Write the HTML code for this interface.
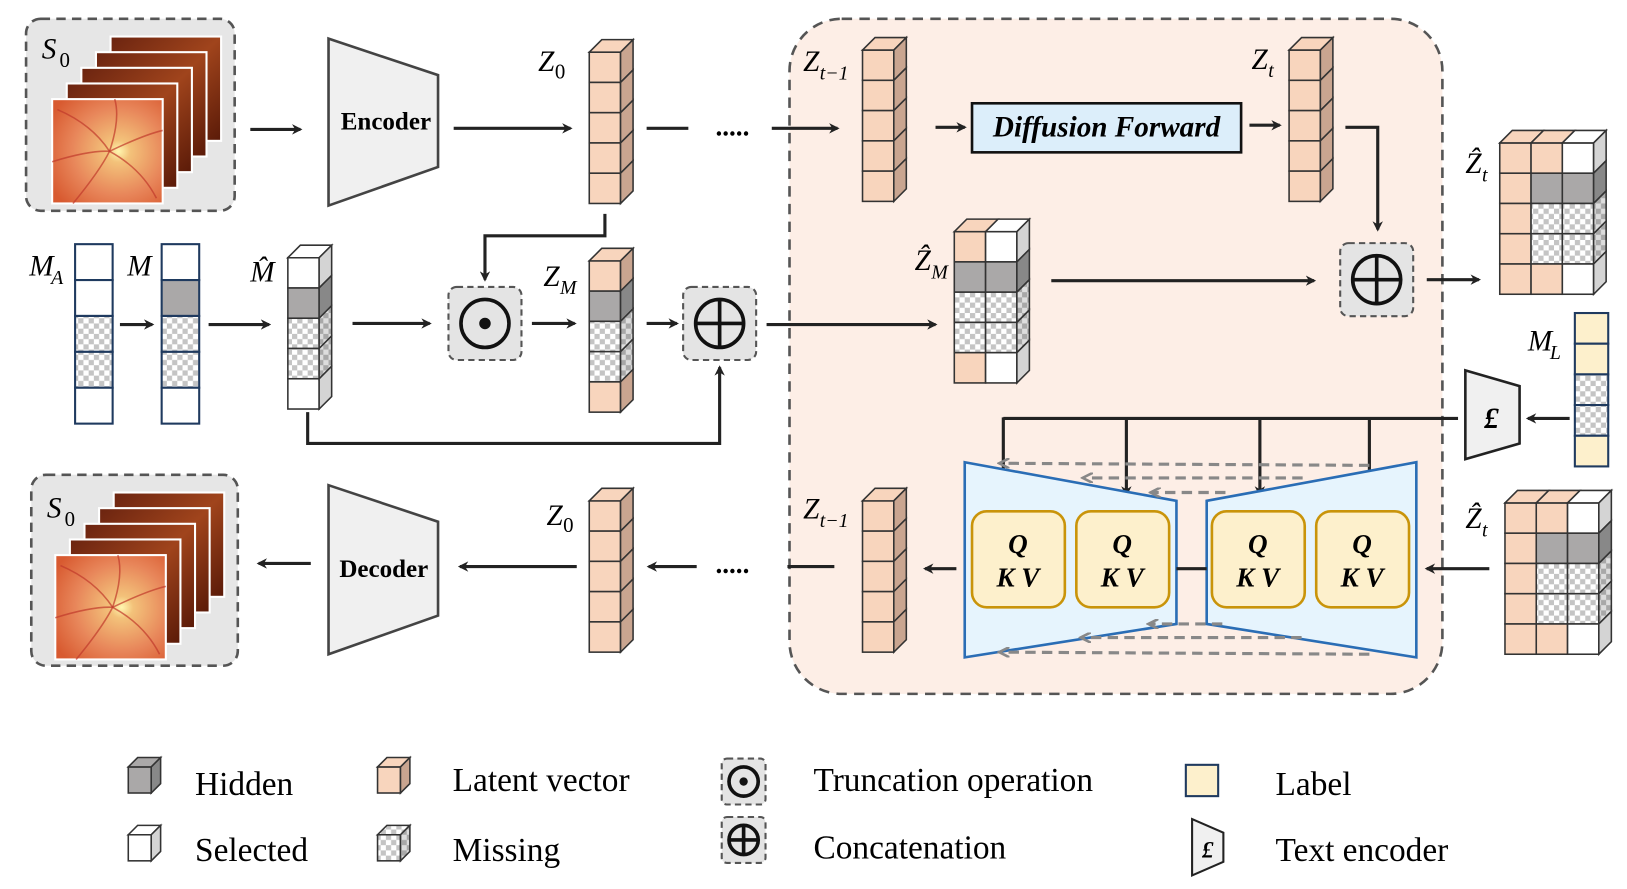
<!DOCTYPE html>
<html><head><meta charset="utf-8">
<style>
html,body{margin:0;padding:0;background:#fff;}
svg{display:block;}
text{font-family:"Liberation Serif",serif;}
.lab{font-style:italic;font-size:28px;}
.sub{font-style:italic;font-size:19px;}
.num{font-style:normal;font-size:20px;}
.leg{font-size:32px;}
.qkv{font-weight:bold;font-style:italic;font-size:26px;}
</style></head><body>
<svg id="s" width="1627" height="889" viewBox="0 0 1560 852" preserveAspectRatio="none" xmlns="http://www.w3.org/2000/svg">
<defs>
<pattern id="chk" width="10" height="10" patternUnits="userSpaceOnUse">
<rect width="10" height="10" fill="#fff"/><rect width="5" height="5" fill="#c4c4c4"/><rect x="5" y="5" width="5" height="5" fill="#c4c4c4"/></pattern>
<pattern id="chkd" width="10" height="10" patternUnits="userSpaceOnUse">
<rect width="10" height="10" fill="#ddd"/><rect width="5" height="5" fill="#a8a8a8"/><rect x="5" y="5" width="5" height="5" fill="#a8a8a8"/></pattern>
<marker id="ah" markerWidth="10" markerHeight="10" refX="8" refY="5" orient="auto" markerUnits="userSpaceOnUse">
<path d="M0,0 L10,5 L0,10 L3,5 Z" fill="#222"/></marker>
<marker id="ahg" markerWidth="12" markerHeight="10" refX="8" refY="5" orient="auto" markerUnits="userSpaceOnUse">
<path d="M0,0 L10,5 L0,10" fill="none" stroke="#888" stroke-width="2.5"/></marker>
<radialGradient id="fund" cx="0.6" cy="0.5" r="0.7">
<stop offset="0" stop-color="#fff6b0"/><stop offset="0.15" stop-color="#f3c27a"/><stop offset="0.6" stop-color="#e8865a"/><stop offset="1" stop-color="#d85a30"/></radialGradient>
<linearGradient id="dark" x1="0" y1="0" x2="1" y2="1">
<stop offset="0" stop-color="#6b2410"/><stop offset="0.5" stop-color="#a0441c"/><stop offset="1" stop-color="#5a1a08"/></linearGradient>
</defs>

<rect x="757" y="18" width="626" height="647" rx="50" fill="#fdeee6" stroke="#555" stroke-width="2.5" stroke-dasharray="10,7"/>

<g id="shapes"></g>

<polygon points="315,37 420,72 420,160 315,197" fill="#f0f0f0" stroke="#444" stroke-width="2.5"/>
<text x="370" y="124" text-anchor="middle" font-weight="bold" font-size="24">Encoder</text>
<polygon points="315,465 420,500 420,590 315,627" fill="#f0f0f0" stroke="#444" stroke-width="2.5"/>
<text x="368" y="553" text-anchor="middle" font-weight="bold" font-size="24">Decoder</text>

<rect x="932" y="99" width="258" height="47" fill="#dceefa" stroke="#111" stroke-width="2.5"/>
<text x="1061" y="131" text-anchor="middle" font-weight="bold" font-style="italic" font-size="28">Diffusion Forward</text>

<g stroke="#222" stroke-width="3" fill="none">
<line x1="240" y1="124" x2="288" y2="124" marker-end="url(#ah)"/>
<line x1="435" y1="123" x2="547" y2="123" marker-end="url(#ah)"/>
<line x1="620" y1="123" x2="660" y2="123"/>
<line x1="740" y1="123" x2="803" y2="123" marker-end="url(#ah)"/>
<line x1="897" y1="122" x2="925" y2="122" marker-end="url(#ah)"/>
<line x1="1198" y1="120" x2="1227" y2="120" marker-end="url(#ah)"/>
<polyline points="1290,122 1321,122 1321,220" marker-end="url(#ah)"/>
<line x1="1368" y1="268" x2="1418" y2="268" marker-end="url(#ah)"/>
<line x1="1008" y1="269" x2="1260" y2="269" marker-end="url(#ah)"/>
<line x1="115" y1="311" x2="146" y2="311" marker-end="url(#ah)"/>
<line x1="200" y1="311" x2="258" y2="311" marker-end="url(#ah)"/>
<line x1="338" y1="310" x2="412" y2="310" marker-end="url(#ah)"/>
<polyline points="580,205 580,226 465,226 465,268" marker-end="url(#ah)"/>
<line x1="510" y1="310" x2="551" y2="310" marker-end="url(#ah)"/>
<line x1="620" y1="310" x2="649" y2="310" marker-end="url(#ah)"/>
<polyline points="295,395 295,425 690,425 690,352" marker-end="url(#ah)"/>
<line x1="735" y1="311" x2="897" y2="311" marker-end="url(#ah)"/>
<line x1="1505" y1="401" x2="1465" y2="401" marker-end="url(#ah)"/>
<line x1="1398" y1="401" x2="962" y2="401"/>
<line x1="962" y1="400" x2="962" y2="474" marker-end="url(#ah)"/>
<line x1="1080" y1="400" x2="1080" y2="474" marker-end="url(#ah)"/>
<line x1="1208" y1="400" x2="1208" y2="474" marker-end="url(#ah)"/>
<line x1="1313" y1="400" x2="1313" y2="474" marker-end="url(#ah)"/>
<line x1="1428" y1="545" x2="1368" y2="545" marker-end="url(#ah)"/>
<line x1="917" y1="545" x2="887" y2="545" marker-end="url(#ah)"/>
<line x1="800" y1="543" x2="755" y2="543"/>
<line x1="668" y1="543" x2="622" y2="543" marker-end="url(#ah)"/>
<line x1="553" y1="543" x2="441" y2="543" marker-end="url(#ah)"/>
<line x1="298" y1="540" x2="248" y2="540" marker-end="url(#ah)"/>
</g>
<text x="686" y="130" font-size="26" font-weight="bold">.....</text>
<text x="686" y="549" font-size="26" font-weight="bold">.....</text>

<polygon points="925,443 1128,480 1128,598 925,630" fill="#e6f4fd" stroke="#2a6db5" stroke-width="2.5"/>
<polygon points="1157,480 1358,443 1358,630 1157,598" fill="#e6f4fd" stroke="#2a6db5" stroke-width="2.5"/>
<g stroke="#888" stroke-width="3" stroke-dasharray="10,6" fill="none">
<line x1="1313" y1="446" x2="960" y2="444" marker-end="url(#ahg)"/>
<line x1="1249" y1="458" x2="1040" y2="458" marker-end="url(#ahg)"/>
<line x1="1175" y1="472" x2="1105" y2="472" marker-end="url(#ahg)"/>
<line x1="1172" y1="598" x2="1103" y2="598" marker-end="url(#ahg)"/>
<line x1="1248" y1="611" x2="1038" y2="611" marker-end="url(#ahg)"/>
<line x1="1313" y1="627" x2="960" y2="625" marker-end="url(#ahg)"/>
</g>
<line x1="1128" y1="545" x2="1157" y2="545" stroke="#222" stroke-width="3"/>
<g fill="#fdf0cc" stroke="#c9940a" stroke-width="2.5">
<rect x="932" y="490" width="89" height="92" rx="14"/>
<rect x="1032" y="490" width="89" height="92" rx="14"/>
<rect x="1162" y="490" width="89" height="92" rx="14"/>
<rect x="1262" y="490" width="89" height="92" rx="14"/>
</g>
<g class="qkv" text-anchor="middle">
<text x="976" y="530" class="qkv">Q</text><text x="976" y="562" class="qkv">K  V</text>
<text x="1076" y="530" class="qkv">Q</text><text x="1076" y="562" class="qkv">K  V</text>
<text x="1206" y="530" class="qkv">Q</text><text x="1206" y="562" class="qkv">K  V</text>
<text x="1306" y="530" class="qkv">Q</text><text x="1306" y="562" class="qkv">K  V</text>
</g>

<g fill="#e4e4e4" stroke="#555" stroke-width="2" stroke-dasharray="6,4">
<rect x="430" y="275" width="70" height="70" rx="8"/>
<rect x="655" y="275" width="70" height="70" rx="8"/>
<rect x="1285" y="233" width="70" height="70" rx="8"/>
<rect x="692" y="727" width="42" height="44" rx="5"/>
<rect x="692" y="783" width="42" height="44" rx="5"/>
</g>
<g stroke="#111" stroke-width="3.5" fill="none">
<circle cx="465" cy="310" r="23"/>
<circle cx="690" cy="310" r="23"/><line x1="667" y1="310" x2="713" y2="310"/><line x1="690" y1="287" x2="690" y2="333"/>
<circle cx="1320" cy="268" r="23"/><line x1="1297" y1="268" x2="1343" y2="268"/><line x1="1320" y1="245" x2="1320" y2="291"/>
<circle cx="713" cy="749" r="14"/>
<circle cx="713" cy="805" r="14"/><line x1="699" y1="805" x2="727" y2="805"/><line x1="713" y1="791" x2="713" y2="819"/>
</g>
<circle cx="465" cy="310" r="5.5" fill="#111"/>
<circle cx="713" cy="749" r="4" fill="#111"/>

<polygon points="1405,355 1457,370 1457,425 1405,440" fill="#f0f0f0" stroke="#222" stroke-width="2.5"/>
<text x="1430" y="410" text-anchor="middle" font-weight="bold" font-style="italic" font-size="28">£</text>
<polygon points="1143,785 1173,798 1173,826 1143,839" fill="#f0f0f0" stroke="#222" stroke-width="2"/>
<text x="1158" y="822" text-anchor="middle" font-weight="bold" font-style="italic" font-size="22">£</text>

<text x="40" y="56" class="lab">S</text><text x="57" y="64" class="num">0</text>
<text x="45" y="496" class="lab">S</text><text x="62" y="504" class="num">0</text>
<text x="516" y="68" class="lab">Z</text><text x="532" y="75" class="num">0</text>
<text x="524" y="503" class="lab">Z</text><text x="540" y="510" class="num">0</text>
<text x="770" y="68" class="lab">Z</text><text x="786" y="76" class="sub">t−1</text>
<text x="770" y="497" class="lab">Z</text><text x="786" y="505" class="sub">t−1</text>
<text x="1200" y="66" class="lab">Z</text><text x="1216" y="74" class="sub">t</text>
<text x="1405" y="166" class="lab">Ẑ</text><text x="1421" y="174" class="sub">t</text>
<text x="1405" y="506" class="lab">Ẑ</text><text x="1421" y="514" class="sub">t</text>
<text x="877" y="259" class="lab">Ẑ</text><text x="893" y="267" class="sub">M</text>
<text x="521" y="274" class="lab">Z</text><text x="537" y="282" class="sub">M</text>
<text x="28" y="264" class="lab">M</text><text x="49" y="272" class="sub">A</text>
<text x="122" y="264" class="lab">M</text>
<text x="240" y="270" class="lab">M̂</text>
<text x="1465" y="336" class="lab">M</text><text x="1486" y="344" class="sub">L</text>

<g id="leg"></g>
<rect x="1137" y="733" width="31" height="30" fill="#fdf0cc" stroke="#1f3a5f" stroke-width="2"/>
<text x="187" y="762" class="leg">Hidden</text>
<text x="187" y="825" class="leg">Selected</text>
<text x="434" y="758" class="leg">Latent vector</text>
<text x="434" y="825" class="leg">Missing</text>
<text x="780" y="758" class="leg">Truncation operation</text>
<text x="780" y="823" class="leg">Concatenation</text>
<text x="1223" y="762" class="leg">Label</text>
<text x="1223" y="825" class="leg">Text encoder</text>
</svg>
<script>
var NS="http://www.w3.org/2000/svg";
var g=document.getElementById('shapes');
function el(t,a,p){var e=document.createElementNS(NS,t);for(var k in a)e.setAttribute(k,a[k]);(p||g).appendChild(e);return e;}
var F={p:'#f8d5bd',g:'#aaa8a8',w:'#ffffff',c:'url(#chk)',y:'#fdf0cc'};
var S={p:'#c9a590',g:'#888888',w:'#d4d4d4',c:'url(#chkd)',y:'#e0d0a0'};
function grid(x,y,cw,ch,cols,d,p){
  var nc=cols.length,n=cols[0].length;
  for(var c=0;c<nc;c++){
    for(var r=0;r<n;r++){
      el('rect',{x:x+c*cw,y:y+r*ch,width:cw,height:ch,fill:F[cols[c][r]],stroke:'#333','stroke-width':1.5},p);
    }
    var t=cols[c][0];
    el('polygon',{points:[x+c*cw,y,x+c*cw+d,y-d,x+(c+1)*cw+d,y-d,x+(c+1)*cw,y].join(','),fill:F[t],stroke:'#333','stroke-width':1.5},p);
  }
  var xr=x+nc*cw,last=cols[nc-1];
  for(var r=0;r<n;r++){
    el('polygon',{points:[xr,y+r*ch,xr+d,y+r*ch-d,xr+d,y+(r+1)*ch-d,xr,y+(r+1)*ch].join(','),fill:S[last[r]],stroke:'#333','stroke-width':1.5},p);
  }
}
function flat(x,y,w,h,cells,col){
  for(var r=0;r<cells.length;r++)el('rect',{x:x,y:y+r*h,width:w,height:h,fill:F[cells[r]],stroke:col,'stroke-width':2});
}
var P='ppppp';
grid(565,50,30,29,[P.split('')],12);
grid(827,48,30,29,[P.split('')],12);
grid(1236,48,30,29,[P.split('')],12);
grid(565,480,30,29,[P.split('')],12);
grid(827,480,30,29,[P.split('')],12);
grid(565,250,30,29,['pgccp'.split('')],12);
grid(276,247,30,29,['wgccw'.split('')],12);
grid(915,222,30,29,['pgccp'.split(''),'wgccw'.split('')],12);
grid(1438,137,30,29,['ppppp'.split(''),'pgccp'.split(''),'wgccw'.split('')],12);
grid(1443,482,30,29,['ppppp'.split(''),'pgccp'.split(''),'wgccw'.split('')],12);
flat(72,234,36,34.4,'wwccw'.split(''),'#1f3a5f');
flat(155,234,36,34.4,'wgccw'.split(''),'#1f3a5f');
flat(1510,300,32,29.4,'yyccy'.split(''),'#1f3a5f');
var L=document.getElementById('leg');
grid(123,735,22,25,[['g']],9,L);
grid(123,800,22,25,[['w']],9,L);
grid(362,735,22,25,[['p']],9,L);
grid(362,800,22,25,[['c']],9,L);
function stack(bx,by,bw,bh,ox,oy){
  el('rect',{x:bx,y:by,width:bw,height:bh,rx:14,fill:'#e6e6e6',stroke:'#555','stroke-width':2.5,'stroke-dasharray':'9,6'});
  for(var i=4;i>=1;i--){
    el('rect',{x:ox+i*14,y:oy-i*15,width:106,height:100,fill:'url(#dark)',stroke:'#fff','stroke-width':2});
  }
  el('rect',{x:ox,y:oy,width:106,height:100,fill:'url(#fund)',stroke:'#fff','stroke-width':2});
  var vx=ox+55,vy=oy+50;
  var vs=[[ox+5,oy+10],[ox+20,oy+100],[ox+106,oy+30],[ox+100,oy+95],[ox,oy+60],[ox+60,oy]];
  vs.forEach(function(v){el('path',{d:'M'+vx+','+vy+' Q'+((vx+v[0])/2+8)+','+((vy+v[1])/2-6)+' '+v[0]+','+v[1],stroke:'#c0392b','stroke-width':1.5,fill:'none',opacity:0.7});});
}
stack(25,18,200,184,50,95);
stack(30,455,198,183,53,532);
</script>
</body></html>
